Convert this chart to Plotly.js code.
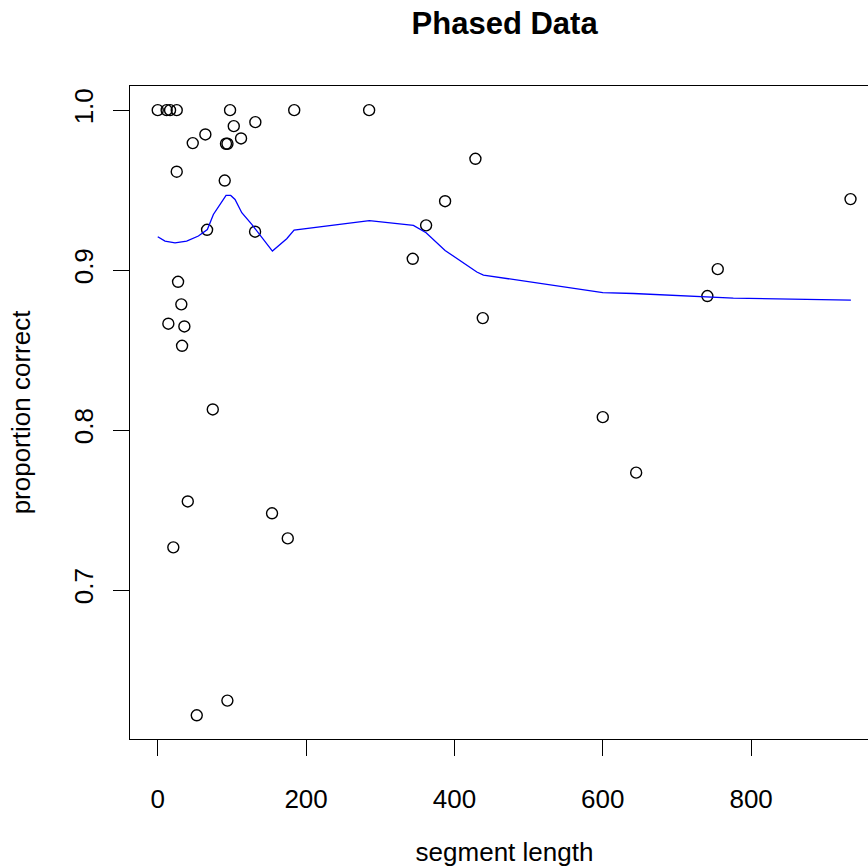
<!DOCTYPE html>
<html>
<head>
<meta charset="utf-8">
<script src="https://cdn.plot.ly/plotly-3.0.1.min.js"></script>
<style>
html, body { margin: 0; padding: 0; overflow: hidden; background: #fff; }
#chart { width: 900px; height: 867px; }
</style>
</head>
<body>
<div id="chart"></div>
<script>
// Observed points: segment length vs proportion correct
const segLength = [0, 12, 16.6, 25.6, 97.5, 184, 285, 102.5, 131.6, 64.2, 47.2, 92, 94, 112.3,
  25.6, 90.3, 66.5, 131.2, 343.8, 361.8, 27.4, 31.8, 14.3, 35.9, 32.8, 74.2, 40.5, 154.1,
  175.3, 21, 93.9, 52.6, 428.3, 387.4, 438.2, 934, 755, 741, 600, 645];
const propCorrect = [1, 1, 1, 1, 1, 1, 1, 0.990, 0.9925, 0.9848, 0.9794, 0.979, 0.979, 0.9823,
  0.9615, 0.956, 0.9252, 0.924, 0.9071, 0.928, 0.8927, 0.8786, 0.8665, 0.8648, 0.8527, 0.8129,
  0.7554, 0.748, 0.7323, 0.7267, 0.6309, 0.6217, 0.9696, 0.9431, 0.870, 0.9444, 0.9006, 0.8838,
  0.8081, 0.7734];

// Smoothed (lowess) curve
const fitX = [0, 9.8, 23.3, 39, 54.8, 66.9, 75, 92.1, 98.4, 104.2, 113.3, 126.8, 154.6, 173.9,
  183.8, 285.3, 344.7, 361.8, 387.4, 430.2, 439.1, 600, 641.3, 740.3, 776, 934.5];
const fitY = [0.9209, 0.9181, 0.9171, 0.9181, 0.9213, 0.9254, 0.9348, 0.9467, 0.9467, 0.9442,
  0.9359, 0.9286, 0.9119, 0.9196, 0.9250, 0.9309, 0.928, 0.9234, 0.9123, 0.8988, 0.8969,
  0.8859, 0.8854, 0.8831, 0.8825, 0.8813];

const xTicks = [0, 200, 400, 600, 800];
const yTicks = [0.7, 0.8, 0.9, 1.0];
const yTickText = ["0.7", "0.8", "0.9", "1.0"];

const FONT = "Liberation Sans, Arial, Helvetica, sans-serif";

const traces = [
  { x: segLength, y: propCorrect, type: "scatter", mode: "markers",
    marker: { symbol: "circle-open", size: 11, color: "#000", line: { width: 1.4, color: "#000" } } },
  { x: fitX, y: fitY, type: "scatter", mode: "lines", line: { color: "#0000ff", width: 1.3 } }
];

const layout = {
  width: 900, height: 867,
  margin: { l: 130, r: 21, t: 86, b: 128 },
  paper_bgcolor: "#fff", plot_bgcolor: "#fff", showlegend: false,
  font: { family: FONT, size: 26, color: "#000" },
  title: { text: "Phased Data", font: { family: FONT, size: 31, weight: "bold", color: "#000" },
    x: 0.5607, xanchor: "center", y: 0.973, yanchor: "middle" },
  xaxis: {
    range: [-37.4, 972.4], tickmode: "array", tickvals: xTicks, ticktext: xTicks.map(String),
    ticks: "outside", ticklen: 16, tickwidth: 1, tickcolor: "#000", ticklabelstandoff: 21,
    showline: true, mirror: true, linecolor: "#000", linewidth: 1, showgrid: false, zeroline: false,
    tickfont: { family: FONT, size: 26, color: "#000" },
    title: { text: "segment length", font: { family: FONT, size: 26, color: "#000" }, standoff: 35 }
  },
  yaxis: {
    range: [0.6069, 1.0151], tickmode: "array", tickvals: yTicks, ticktext: yTickText, tickangle: -90,
    ticks: "outside", ticklen: 16, tickwidth: 1, tickcolor: "#000", ticklabelstandoff: 10,
    showline: true, mirror: true, linecolor: "#000", linewidth: 1, showgrid: false, zeroline: false,
    tickfont: { family: FONT, size: 26, color: "#000" },
    title: { text: "proportion correct", font: { family: FONT, size: 26, color: "#000" }, standoff: 30 }
  }
};

Plotly.newPlot("chart", traces, layout, { displayModeBar: false, staticPlot: true });
</script>
</body>
</html>
